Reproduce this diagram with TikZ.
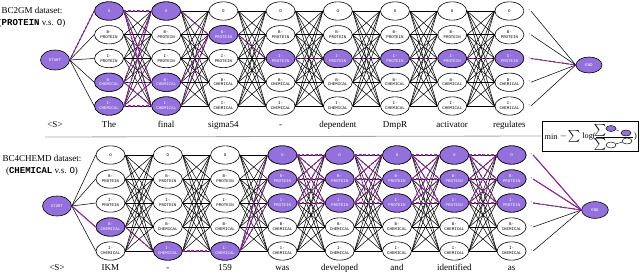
\documentclass[tikz,border=0pt]{standalone}
\usepackage{fontspec}
\setmainfont{Liberation Serif}
\setmonofont{Liberation Mono}
\usetikzlibrary{shapes.geometric,positioning}
\definecolor{tagfill}{RGB}{147,112,219}
\definecolor{hlcol}{RGB}{155,35,165}
\newcommand{\taglab}[1]{\ifcase#1\or O\or B-\\PROTEIN\or I-\\PROTEIN\or B-\\CHEMICAL\or I-\\CHEMICAL\fi}

\begin{document}
\begin{tikzpicture}[x=0.03cm,y=-0.03cm,
  tag/.style={ellipse,draw,line width=0.5pt,inner sep=0pt,minimum width=0.87cm,
    minimum height=0.55cm,align=center,fill=white,
    font=\fontsize{3.5}{4}\selectfont\ttfamily},
  hot/.style={fill=tagfill,text=white},
  mini/.style={ellipse,draw,line width=0.4pt,inner sep=0pt,minimum width=0.3cm,minimum height=0.18cm},
  edge/.style={line width=0.45pt},
  hl/.style={hlcol,dash pattern=on 2.2pt off 1.6pt,line width=1pt},
  hlsolid/.style={hlcol,line width=0.9pt},
  word/.style={font=\fontsize{7.7}{10.2}\selectfont},
  lossword/.style={font=\fontsize{7}{7}\selectfont,inner sep=0pt},
  tick/.style={font=\fontsize{4}{4}\selectfont,inner sep=0.5pt}]
\useasboundingbox (0,0) rectangle (640,272);

% top: BC2GM
\node[word,align=center] (ttitle) at (32,17) {BC2GM dataset:\\(\textbf{\texttt{PROTEIN}} v.s. \texttt{O})};
\node[tag,hot,minimum height=0.6cm] (tstart) at (55,60) {START};
\node[tag,hot,minimum width=0.78cm,minimum height=0.48cm] (tend) at (589,65) {END};
\foreach \k [evaluate=\k as \x using 109+57.2*(\k-1)] in {1,...,8}
  \foreach \r in {1,...,5}
    \node[tag] (t-\k-\r) at (\x,{11+23.75*(\r-1)}) {\taglab{\r}};
\foreach \k/\r in {1/1,1/4,1/5,2/1,2/4,2/5,3/2,4/3,5/3,6/3,7/3,8/3}
  \node[tag,hot] (t-\k-\r) at (t-\k-\r) {\taglab{\r}};
\coordinate (tbase) at (0,127);
\node[word,anchor=base] (tw-0) at (tstart.center |- tbase) {\textless S\textgreater};
\foreach \w [count=\k] in {The,final,sigma54,-,dependent,DmpR,activator,regulates}
  \node[word,anchor=base] (tw-\k) at (t-\k-5.center |- tbase) {\w};
\foreach \k in {1,...,7} {
  \pgfmathtruncatemacro\n{\k+1}
  \foreach \i in {1,...,5}
    \foreach \j in {1,...,5}
      \draw[edge] (t-\k-\i.east) -- (t-\n-\j.west);
}
\foreach \r in {1,...,5} {
  \draw[edge] (tstart.east) -- (t-1-\r.west);
  \node[tick,right=3pt of t-8-\r] (td-\r) {-};
  \draw[edge] (td-\r.east) -- (tend.west);
}
% top: decoded path
\draw[hl] (tstart.east) -- (t-1-1.west);
\foreach \i in {1,4,5} {
  \foreach \j in {1,4,5}
    \draw[hl] (t-1-\i.east) -- (t-2-\j.west);
  \draw[hl] (t-2-\i.east) -- (t-3-2.west);
}
\draw[hl] (t-3-2.east) -- (t-4-3.west);
\foreach \k [evaluate=\k as \n using int(\k+1)] in {4,...,7}
  \draw[hl] (t-\k-3.east) -- (t-\n-3.west);
\draw[hl] (td-3.east) -- (tend.west);

% separator and loss
\coordinate (sepstart) at (45,137);
\node[draw,line width=0.5pt,minimum width=2.88cm,minimum height=0.9cm,inner sep=0pt] (loss) at (590,136) {};
\draw[gray!70,line width=0.7pt] (sepstart) -- (loss.west);
\node[lossword] (lmin) at (551,136.5) {min};
\node[lossword] (lminus) at (563.5,136) {$-$};
\node[font=\fontsize{10}{10}\selectfont,inner sep=0pt] (lsum) at (574,136) {$\sum$};
\node[lossword] (llog) at (589,136.5) {log(};
\node[lossword] (lclose) at (635.5,136.5) {)};
\node[font=\fontsize{5.5}{5.5}\selectfont,inner sep=0pt] (nsum) at (600,130) {$\sum$};
\node[font=\fontsize{5.5}{5.5}\selectfont,inner sep=0pt] (dsum) at (600,144) {$\sum$};
\node[mini,fill=tagfill] (na) at (611,128.5) {};
\node[mini,fill=tagfill] (nb) at (626,133) {};
\node[mini,fill=white] (da) at (611,145) {};
\node[mini,fill=white] (db) at (627,141) {};
\draw[hlcol,dashed,line width=0.4pt] (na) -- (nb);
\draw[line width=0.4pt] (da) -- (db);
\draw[line width=0.4pt] (596,137.5) -- (633,137.5);

% bottom: BC4CHEMD
\node[word,align=center] (btitle) at (42,165) {BC4CHEMD dataset:\\(\textbf{\texttt{CHEMICAL}} v.s. \texttt{O})};
\node[tag,hot,minimum height=0.6cm] (bstart) at (57,206) {START};
\node[tag,hot,minimum width=0.8cm,minimum height=0.5cm] (bend) at (595,210) {END};
\foreach \k [evaluate=\k as \x using 110.5+57.3*(\k-1)] in {1,...,8}
  \foreach \r in {1,...,5}
    \node[tag] (b-\k-\r) at (\x,{155+24*(\r-1)}) {\taglab{\r}};
\foreach \k/\r in {1/4,2/5,3/5,4/1,4/2,4/3,5/1,5/2,5/3,6/1,6/2,6/3,7/1,7/2,7/3,8/1,8/2,8/3}
  \node[tag,hot] (b-\k-\r) at (b-\k-\r) {\taglab{\r}};
\coordinate (bbase) at (0,270.5);
\node[word,anchor=base] (bw-0) at (bstart.center |- bbase) {\textless S\textgreater};
\foreach \w [count=\k] in {IKM,-,159,was,developed,and,identified,as}
  \node[word,anchor=base] (bw-\k) at (b-\k-5.center |- bbase) {\w};
\foreach \k in {1,...,7} {
  \pgfmathtruncatemacro\n{\k+1}
  \foreach \i in {1,...,5}
    \foreach \j in {1,...,5}
      \draw[edge] (b-\k-\i.east) -- (b-\n-\j.west);
}
\foreach \r in {1,...,5} {
  \draw[edge] (bstart.east) -- (b-1-\r.west);
  \node[tick,right=3pt of b-8-\r] (bd-\r) {-};
  \draw[edge] (bd-\r.east) -- (bend.west);
}
% bottom: decoded path
\draw[hlsolid] (bstart.east) -- (b-1-4.west);
\draw[hl] (b-1-4.east) -- (b-2-5.west);
\draw[hl] (b-2-5.east) -- (b-3-5.west);
\foreach \j in {1,2,3}
  \draw[hl] (b-3-5.east) -- (b-4-\j.west);
\foreach \k [evaluate=\k as \n using int(\k+1)] in {4,...,7}
  \foreach \i in {1,2,3}
    \foreach \j in {1,2,3}
      \draw[hl] (b-\k-\i.east) -- (b-\n-\j.west);
\draw[hlsolid] (bd-1.east) -- (bend.west);
\draw[hlsolid] (bd-2.east) -- (bend.west);
\draw[hl] (bd-3.east) -- (bend.west);
\end{tikzpicture}
\end{document}
